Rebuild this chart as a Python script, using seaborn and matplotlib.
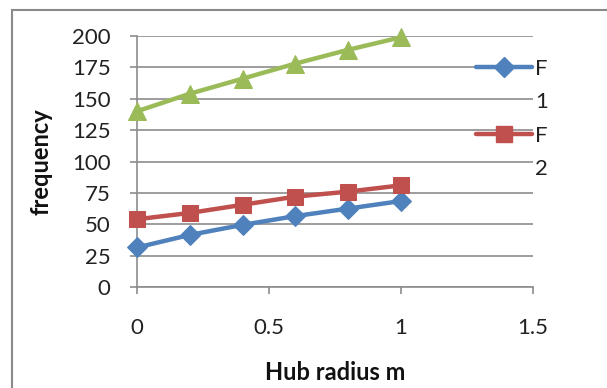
import matplotlib
matplotlib.use("Agg")
import matplotlib.pyplot as plt
import seaborn as sns
import pandas as pd
from matplotlib.lines import Line2D
from matplotlib.patches import Rectangle

hub_radius = [0, 0.2, 0.4, 0.6, 0.8, 1.0]
f1 = [31.5, 41.5, 49.5, 56.5, 62.5, 68.5]
f2 = [54, 59, 65.5, 72, 76, 81]
f3 = [140, 154, 166, 178, 189, 199]
y_ticks = [0, 25, 50, 75, 100, 125, 150, 175, 200]
x_ticks = [0, 0.5, 1, 1.5]
x_tick_labels = ["0", "0.5", "1", "1.5"]

sns.set_theme(style="white")
plt.rcParams['font.family'] = ['Lato', 'DejaVu Sans']

fig = plt.figure(figsize=(6.07, 3.88), dpi=100)
ax = fig.add_axes([137/607, 1-287/388, (533-137)/607, (287-36)/388])

blue = "#4F81BD"
red = "#C0504D"
green = "#9BBB59"

df = pd.DataFrame({"x": hub_radius, "F1": f1, "F2": f2, "F3": f3})
sns.lineplot(data=df, x="x", y="F1", ax=ax, color=blue, marker="D", markersize=10.5,
             markeredgecolor=blue, linewidth=3.2, zorder=3, clip_on=False)
sns.lineplot(data=df, x="x", y="F2", ax=ax, color=red, marker="s", markersize=11,
             markeredgecolor=red, linewidth=3.2, zorder=3, clip_on=False)
sns.lineplot(data=df, x="x", y="F3", ax=ax, color=green, marker="^", markersize=13,
             markeredgecolor=green, linewidth=3.2, zorder=3, clip_on=False)

ax.set_xlim(0, 1.5)
ax.set_ylim(0, 200)
ax.set_yticks(y_ticks)
ax.set_yticklabels([str(v) for v in y_ticks])
ax.set_xticks(x_ticks)
ax.set_xticklabels(x_tick_labels)
ax.yaxis.grid(True, color="#8c8c8c", linewidth=1.2)
ax.xaxis.grid(False)
ax.set_axisbelow(True)
for s in ["top", "right"]:
    ax.spines[s].set_visible(False)
for s in ["left", "bottom"]:
    ax.spines[s].set_visible(True)
    ax.spines[s].set_color("#8c8c8c")
    ax.spines[s].set_linewidth(1.2)
ax.tick_params(axis="both", which="both", length=5, width=1.2, color="#8c8c8c",
               labelsize=16, labelcolor="#222222", left=True, bottom=True)
ax.tick_params(axis="y", pad=14)
ax.tick_params(axis="x", pad=17)

ax.set_xlabel("Hub radius m", fontsize=17, fontweight="bold", color="#111111", labelpad=17)
ax.set_ylabel("frequency", fontsize=17, fontweight="bold", color="#111111", labelpad=14)

h1 = Line2D([], [], color=blue, marker="D", markersize=10.5, linewidth=3.2)
h2 = Line2D([], [], color=red, marker="s", markersize=11, linewidth=3.2)
blank = Line2D([], [], color="none")
leg = ax.legend([h1, blank, h2, blank], ["F", "1", "F", "2"], loc="upper left",
                bbox_to_anchor=(476/607, 1-59/388), bbox_transform=fig.transFigure,
                frameon=False, fontsize=16, handlelength=2.5, handletextpad=0.15,
                labelspacing=0.6, borderaxespad=0, borderpad=0)
for t in leg.get_texts():
    t.set_color("#222222")

fig.patches.append(Rectangle((12/607, -0.1), 1.2, 1 - 10/388 + 0.1, transform=fig.transFigure,
                             fill=False, edgecolor="#8a8a8a", linewidth=1.5, zorder=-1))

fig.savefig("out.png", dpi=100)
